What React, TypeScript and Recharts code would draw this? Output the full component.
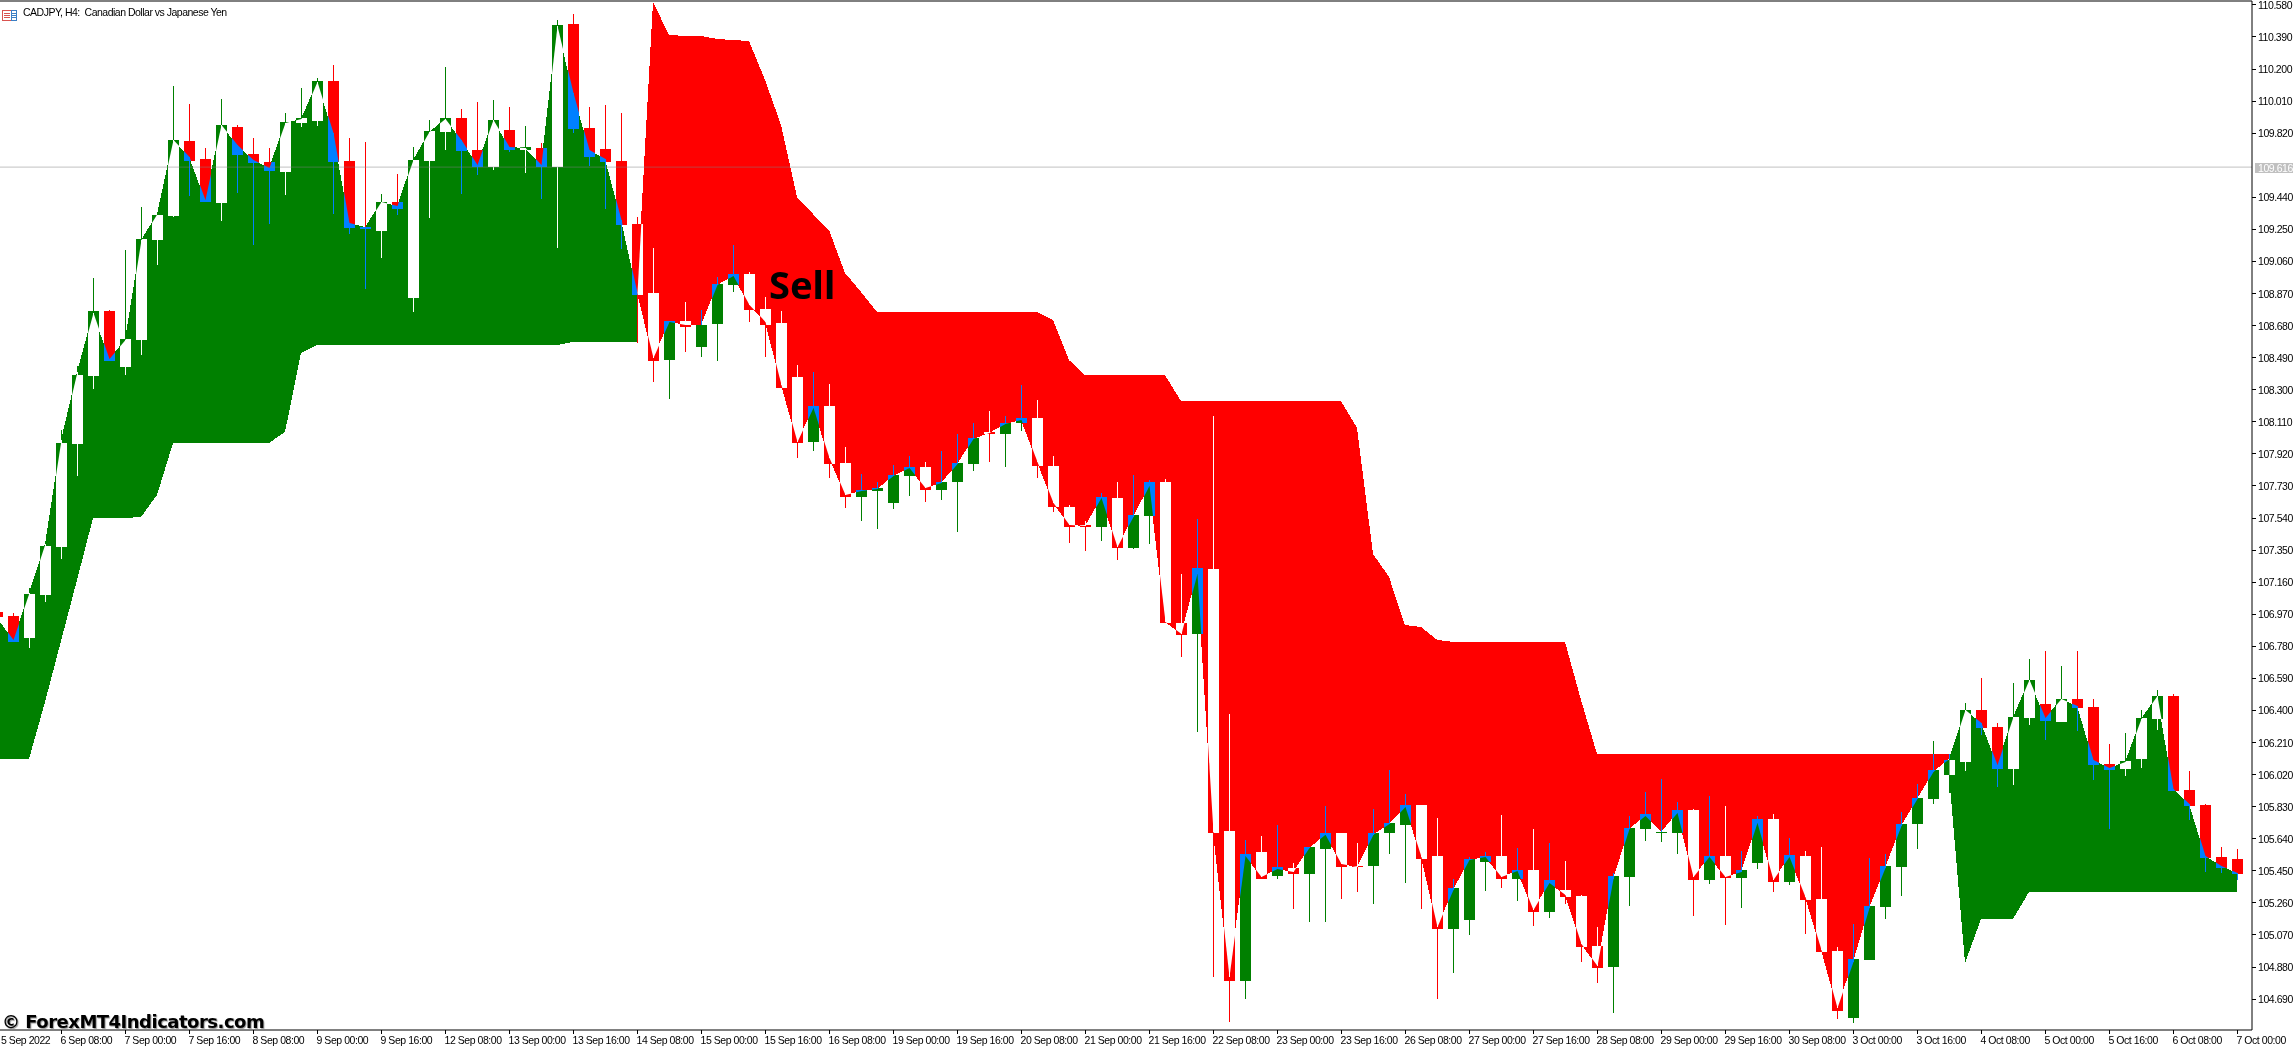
import React from "react";
import { ComposedChart, Area, Bar, XAxis, YAxis, ReferenceLine, ReferenceArea } from "recharts";

const opens = [106.981,106.957,106.827,107.082,107.366,107.976,108.379,108.764,108.432,108.592,109.184,109.326,109.771,109.664,109.403,109.854,109.694,109.646,109.587,109.877,109.889,110.126,109.652,109.261,109.238,109.409,108.841,109.652,109.824,109.907,109.717,109.617,109.836,109.717,109.729,109.617,110.464,109.848,109.723,109.652,109.279,108.870,108.473,108.704,108.550,108.687,108.918,108.983,108.776,108.693,108.373,107.988,108.201,107.863,107.662,107.697,107.626,107.786,107.839,107.703,107.751,107.857,108.047,108.035,108.100,108.130,107.845,107.603,107.496,107.484,107.656,107.360,107.549,107.751,106.915,106.850,107.235,105.683,104.795,105.559,105.417,105.464,105.428,105.576,105.671,105.476,105.476,105.671,105.719,105.837,105.535,105.103,105.156,105.499,105.535,105.399,105.452,105.203,105.334,105.298,105.002,104.877,105.411,105.695,105.671,105.671,105.807,105.393,105.535,105.405,105.494,105.754,105.381,105.535,105.280,104.972,104.575,104.919,105.233,105.470,105.725,105.873,106.015,106.092,106.400,106.299,106.050,106.353,106.435,106.329,106.465,106.418,106.080,106.050,106.110,106.347,106.483,105.926,105.837,105.529,105.517];
const closes = [106.951,106.803,107.088,107.372,107.981,108.384,108.764,108.467,108.598,109.190,109.332,109.777,109.652,109.409,109.866,109.688,109.640,109.593,109.883,109.907,110.126,109.646,109.255,109.249,109.409,109.368,109.658,109.830,109.907,109.711,109.617,109.895,109.717,109.735,109.617,110.458,109.842,109.676,109.646,109.273,108.858,108.467,108.704,108.669,108.681,108.924,108.983,108.770,108.681,108.307,107.982,108.201,107.857,107.662,107.703,107.715,107.792,107.839,107.703,107.751,107.863,108.011,108.035,108.100,108.130,107.845,107.603,107.484,107.484,107.662,107.360,107.555,107.751,106.915,106.844,107.241,105.671,104.795,105.547,105.399,105.470,105.428,105.588,105.671,105.470,105.470,105.671,105.731,105.837,105.517,105.103,105.345,105.517,105.535,105.399,105.452,105.203,105.393,105.292,104.996,104.872,105.417,105.701,105.784,105.677,105.807,105.393,105.535,105.405,105.452,105.754,105.381,105.541,105.274,104.966,104.617,104.925,105.239,105.476,105.725,105.879,106.045,106.104,106.400,106.293,106.050,106.358,106.578,106.335,106.465,106.412,106.074,106.045,106.098,106.353,106.483,105.920,105.831,105.523,105.464,105.428];
const highs = [106.981,106.975,107.122,107.390,108.058,108.438,108.959,108.770,109.125,109.380,109.332,110.097,109.990,109.729,110.020,109.866,109.788,109.729,109.937,110.085,110.144,110.221,109.788,109.765,109.457,109.575,109.735,109.895,110.209,109.960,110.002,110.014,109.972,109.860,109.759,110.488,110.523,109.972,109.984,109.937,109.320,109.137,108.704,108.817,108.770,108.965,109.155,108.995,108.847,108.764,108.444,108.402,108.331,107.958,107.798,107.751,107.851,107.905,107.869,107.934,108.035,108.100,108.171,108.142,108.325,108.236,107.905,107.614,107.520,107.685,107.751,107.792,107.763,107.768,107.206,107.531,108.142,106.376,105.630,105.654,105.719,105.494,105.588,105.831,105.671,105.612,105.814,106.045,105.902,105.837,105.760,105.399,105.529,105.559,105.778,105.582,105.695,105.612,105.505,105.304,105.114,105.434,105.772,105.914,105.991,105.855,105.814,105.890,105.831,105.565,105.772,105.784,105.642,105.565,105.588,104.996,105.132,105.523,105.547,105.796,105.962,106.216,106.139,106.441,106.590,106.323,106.560,106.702,106.749,106.661,106.749,106.465,106.198,106.264,106.400,106.518,106.495,106.039,105.843,105.588,105.576];
const lows = [106.951,106.803,106.768,107.040,107.294,107.786,108.302,108.467,108.384,108.503,109.036,109.320,109.445,109.409,109.297,109.463,109.155,109.279,109.451,109.854,109.860,109.338,109.220,108.894,109.078,109.332,108.758,109.315,109.717,109.457,109.569,109.599,109.706,109.581,109.427,109.137,109.818,109.623,109.368,109.131,108.574,108.343,108.242,108.521,108.491,108.467,108.876,108.699,108.491,108.307,107.893,107.934,107.774,107.597,107.520,107.472,107.591,107.668,107.632,107.644,107.454,107.816,107.869,107.839,108.053,107.774,107.573,107.389,107.342,107.401,107.289,107.354,107.383,106.915,106.714,106.270,104.818,104.552,104.688,105.399,105.399,105.221,105.144,105.144,105.280,105.322,105.251,105.547,105.375,105.221,104.688,104.842,105.067,105.328,105.345,105.268,105.120,105.168,105.251,104.907,104.783,104.605,105.239,105.624,105.618,105.547,105.180,105.369,105.126,105.227,105.458,105.322,105.363,105.073,104.966,104.569,104.546,104.919,105.162,105.298,105.576,105.843,105.908,106.039,106.252,105.944,105.956,106.311,106.222,106.329,106.276,105.985,105.695,106.009,106.056,106.282,105.920,105.748,105.440,105.434,105.393];
const mids = [106.945,106.815,107.093,107.384,107.999,108.402,108.752,108.479,108.592,109.184,109.338,109.777,109.676,109.421,109.866,109.747,109.658,109.611,109.877,109.901,110.120,109.818,109.285,109.261,109.409,109.386,109.658,109.824,109.901,109.777,109.629,109.895,109.735,109.729,109.629,110.452,110.055,109.717,109.664,109.303,108.870,108.485,108.699,108.681,108.681,108.918,108.971,108.799,108.699,108.325,107.988,108.189,107.893,107.674,107.697,107.709,107.786,107.834,107.715,107.745,107.857,108.005,108.041,108.094,108.118,107.869,107.626,107.496,107.490,107.656,107.365,107.543,107.727,106.921,106.850,107.206,105.677,104.818,105.535,105.411,105.458,105.440,105.582,105.660,105.488,105.470,105.660,105.725,105.825,105.529,105.114,105.334,105.511,105.529,105.411,105.446,105.215,105.375,105.304,105.014,104.883,105.399,105.695,105.772,105.677,105.790,105.411,105.529,105.411,105.440,105.731,105.393,105.529,105.292,104.978,104.635,104.907,105.227,105.464,105.713,105.873,106.033,106.110,106.400,106.323,106.074,106.358,106.578,106.353,106.465,106.424,106.104,106.056,106.092,106.347,106.483,105.932,105.843,105.535,105.476,105.434];

// Trailing guard of the up-trend cloud, bars 0..40
const greenGuardFirst = [106.110,106.110,106.110,106.447,106.809,107.170,107.537,107.537,107.537,107.543,107.674,107.982,107.982,107.982,107.982,107.982,107.982,107.982,108.047,108.515,108.562,108.562,108.562,108.562,108.562,108.562,108.562,108.562,108.562,108.562,108.562,108.562,108.562,108.562,108.562,108.562,108.580,108.580,108.580,108.580,108.580];
// Trailing guard of the up-trend cloud, bars 122..140
const greenGuardLast = [106.015,104.901,105.162,105.162,105.162,105.322,105.322,105.322,105.322,105.322,105.322,105.322,105.322,105.322,105.322,105.322,105.322,105.322,105.322];
// Trailing guard of the down-trend cloud, bars 40..122
const redGuard = [108.870,110.594,110.399,110.393,110.393,110.375,110.369,110.363,110.132,109.866,109.439,109.338,109.243,108.989,108.876,108.758,108.758,108.758,108.758,108.758,108.758,108.758,108.758,108.758,108.758,108.758,108.710,108.473,108.384,108.384,108.384,108.384,108.384,108.384,108.230,108.230,108.230,108.230,108.230,108.230,108.230,108.230,108.230,108.230,108.230,108.071,107.324,107.188,106.903,106.892,106.815,106.803,106.803,106.803,106.803,106.803,106.803,106.803,106.803,106.459,106.139,106.139,106.139,106.139,106.139,106.139,106.139,106.139,106.139,106.139,106.139,106.139,106.139,106.139,106.139,106.139,106.139,106.139,106.139,106.139,106.139,106.139,106.139];

const RED_START = 40;
const GREEN_RESUME = 122;

const xTickLabels = ["5 Sep 2022","6 Sep 08:00","7 Sep 00:00","7 Sep 16:00","8 Sep 08:00","9 Sep 00:00","9 Sep 16:00","12 Sep 08:00","13 Sep 00:00","13 Sep 16:00","14 Sep 08:00","15 Sep 00:00","15 Sep 16:00","16 Sep 08:00","19 Sep 00:00","19 Sep 16:00","20 Sep 08:00","21 Sep 00:00","21 Sep 16:00","22 Sep 08:00","23 Sep 00:00","23 Sep 16:00","26 Sep 08:00","27 Sep 00:00","27 Sep 16:00","28 Sep 08:00","29 Sep 00:00","29 Sep 16:00","30 Sep 08:00","3 Oct 00:00","3 Oct 16:00","4 Oct 08:00","5 Oct 00:00","5 Oct 16:00","6 Oct 08:00","7 Oct 00:00"];
const xTicks = xTickLabels.map((_, k) => k * 4);
const currentPrice = 109.616;
const yTicks = [110.58,110.39,110.2,110.01,109.82,currentPrice,109.44,109.25,109.06,108.87,108.68,108.49,108.3,108.11,107.92,107.73,107.54,107.35,107.16,106.97,106.78,106.59,106.4,106.21,106.02,105.83,105.64,105.45,105.26,105.07,104.88,104.69];

const GREEN = "#008000";
const RED = "#FF0000";
const BLUE = "#0080FF";
const WHITE = "#FFFFFF";
const FONT = "'Liberation Sans', Arial, sans-serif";
const BAR_STEP = 16;

const greenGuardAt = (i: number): number | null =>
  i <= RED_START ? greenGuardFirst[i] : i >= GREEN_RESUME ? greenGuardLast[i - GREEN_RESUME] : null;
const redGuardAt = (i: number): number | null =>
  i >= RED_START && i <= GREEN_RESUME ? redGuard[i - RED_START] : null;

const rows = opens.map((_, i) => {
  const g = greenGuardAt(i);
  const r = redGuardAt(i);
  return {
    i,
    candle: [lows[i], highs[i]],
    greenBand: g === null ? null : [g, mids[i]],
    redBand: r === null ? null : [mids[i], r],
  };
});

// Colour a candle takes where it overlaps a cloud (the platform XORs the fill)
const insideColor = (bull: boolean, redCloud: boolean) => (bull !== redCloud ? WHITE : BLUE);

const Candle = (props: any) => {
  const { x, y, width, height, payload } = props;
  const i: number = payload.i;
  const k = height / (highs[i] - lows[i]);
  const py = (p: number) => y + (highs[i] - p) * k;
  const cx = Math.round(x + width / 2);
  const bull = closes[i] >= opens[i];
  const bodyTop = Math.round(py(Math.max(opens[i], closes[i])));
  const bodyH = Math.max(1, Math.round(py(Math.min(opens[i], closes[i]))) - bodyTop);
  const base = bull ? GREEN : RED;

  const sides = [i - 1, i].filter((a) => a >= 0 && a + 1 < opens.length);
  const bandOf = (a: number, red: boolean) =>
    red ? [redGuard[a - RED_START], mids[a]] : [mids[a], greenGuardAt(a) as number];

  const vertexRed = i >= RED_START && i <= GREEN_RESUME;
  const band = bandOf(i, vertexRed);
  const wickTop = Math.max(py(band[0]), y);
  const wickBottom = Math.min(py(band[1]), y + height);

  return (
    <g>
      <rect x={cx} y={y} width={1} height={height} fill={base} shapeRendering="crispEdges" />
      <rect x={cx - 5} y={bodyTop} width={11} height={bodyH} fill={base} shapeRendering="crispEdges" />
      {wickBottom > wickTop && (
        <rect x={cx} y={wickTop} width={1} height={wickBottom - wickTop} fill={insideColor(bull, vertexRed)} shapeRendering="crispEdges" />
      )}
      {sides.map((a) => {
        const red = a >= RED_START && a < GREEN_RESUME;
        const b = a + 1;
        const xa = cx + 0.5 + (a - i) * BAR_STEP;
        const xb = cx + 0.5 + (b - i) * BAR_STEP;
        const ba = bandOf(a, red);
        const bb = bandOf(b, red);
        const pts = `${xa},${py(ba[0])} ${xb},${py(bb[0])} ${xb},${py(bb[1])} ${xa},${py(ba[1])}`;
        const id = `cloud-${i}-${a}`;
        return (
          <g key={a}>
            <clipPath id={id}>
              <polygon points={pts} />
            </clipPath>
            <rect clipPath={`url(#${id})`} x={cx - 5} y={bodyTop} width={11} height={bodyH} fill={insideColor(bull, red)} shapeRendering="crispEdges" />
          </g>
        );
      })}
    </g>
  );
};

const XTick = (props: any) => {
  const { x, y, payload } = props;
  return (
    <g>
      <rect x={Math.round(x)} y={y} width={1} height={4} fill="#000" shapeRendering="crispEdges" />
      <text x={Math.max(x - 0.5, 1)} y={y + 14} fontFamily={FONT} fontSize={10.5} letterSpacing={-0.45} fill="#000" textAnchor="start">
        {xTickLabels[payload.value / 4]}
      </text>
    </g>
  );
};

const YTick = (props: any) => {
  const { x, y, payload } = props;
  const current = payload.value === currentPrice;
  return (
    <g>
      {current ? (
        <rect x={x + 3} y={y - 4.5} width={38} height={10} fill="#C0C0C0" shapeRendering="crispEdges" />
      ) : (
        <rect x={x} y={Math.round(y)} width={4} height={1} fill="#000" shapeRendering="crispEdges" />
      )}
      <text x={x + 6} y={y + 4.5} fontFamily={FONT} fontSize={10.5} letterSpacing={-0.45} fill={current ? "#FFF" : "#000"} textAnchor="start">
        {payload.value.toFixed(3)}
      </text>
    </g>
  );
};

export default function App() {
  return (
    <div style={{ position: "absolute", left: 0, top: 0, width: 2293, height: 1048, background: "#fff", overflow: "hidden" }}>
      <style>{`.price-line, .price-line line { mix-blend-mode: exclusion; }`}</style>
      <ComposedChart width={2293} height={1048} data={rows} margin={{ top: 1, right: 0, bottom: 0, left: 0 }}>
        <XAxis
          dataKey="i"
          type="number"
          domain={[0.1875, 140.9375]}
          allowDataOverflow
          ticks={xTicks}
          interval={0}
          height={18}
          tickSize={0}
          tickMargin={0}
          tickLine={false}
          axisLine={{ stroke: "#000" }}
          tick={<XTick />}
        />
        <YAxis
          orientation="right"
          type="number"
          domain={[104.504, 110.6]}
          allowDataOverflow
          ticks={yTicks}
          interval={0}
          width={41}
          tickSize={0}
          tickMargin={0}
          tickLine={false}
          axisLine={{ stroke: "#000" }}
          tick={<YTick />}
        />
        <ReferenceArea y1={104.504} y2={110.6} fill="#FFFFFF" fillOpacity={1} stroke="none" />
        <ReferenceLine y={110.6} stroke="#000" />
        <Area dataKey="greenBand" type="linear" fill={GREEN} fillOpacity={1} stroke="none" shapeRendering="crispEdges" isAnimationActive={false} dot={false} activeDot={false} />
        <Area dataKey="redBand" type="linear" fill={RED} fillOpacity={1} stroke="none" shapeRendering="crispEdges" isAnimationActive={false} dot={false} activeDot={false} />
        <Bar dataKey="candle" barSize={11} shape={<Candle />} isAnimationActive={false} />
        <ReferenceLine y={currentPrice} stroke="#3F3F3F" className="price-line" />
      </ComposedChart>

      <div style={{ position: "absolute", left: 2, top: 7, width: 14, height: 10 }}>
        <svg width={15} height={11}>
          <rect x={0.5} y={0.5} width={14} height={10} fill="#fff" stroke="#D9534F" />
          <rect x={9.5} y={0.5} width={5} height={10} fill="#fff" stroke="#3B7FC4" />
          <path d="M2 3.5H8M2 5.5H8M2 7.5H8" stroke="#D9534F" />
          <path d="M10 3.5H14M10 5.5H14M10 7.5H14" stroke="#3B7FC4" />
        </svg>
      </div>
      <div style={{ position: "absolute", left: 23, top: 6, fontFamily: FONT, fontSize: 10.5, letterSpacing: -0.5, color: "#000", whiteSpace: "pre" }}>
        {"CADJPY, H4:  Canadian Dollar vs Japanese Yen"}
      </div>
      <div style={{ position: "absolute", left: 769, top: 259, fontFamily: "'Noto Sans', sans-serif", fontWeight: 700, fontSize: 38, lineHeight: "50px", color: "#000" }}>
        Sell
      </div>
      <div style={{ position: "absolute", left: 2, top: 1010, fontFamily: "'DejaVu Sans', sans-serif", fontWeight: 700, fontSize: 18, letterSpacing: -0.5, lineHeight: "24px", color: "#000", textShadow: "1px 1px 1px #999", whiteSpace: "pre" }}>
        {"© ForexMT4Indicators.com"}
      </div>
    </div>
  );
}
